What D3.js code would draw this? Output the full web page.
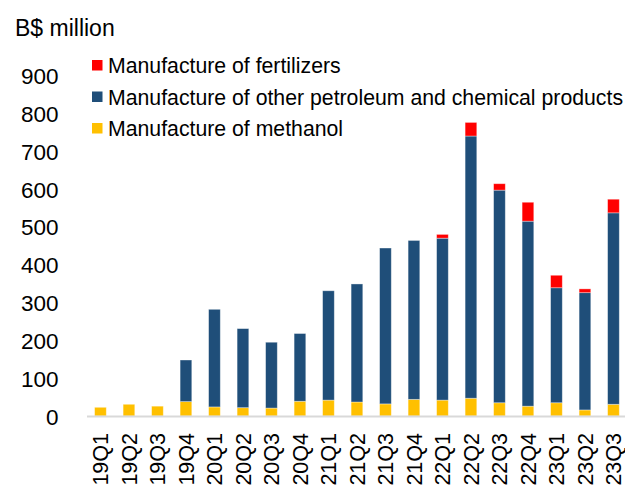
<!DOCTYPE html>
<html><head><meta charset="utf-8">
<script src="https://cdn.jsdelivr.net/npm/d3@7"></script>
<style>body{margin:0;background:#fff}svg{display:block;font-family:"Liberation Sans",Arial,sans-serif}</style>
</head><body><svg id="c" width="625" height="489"></svg>
<script>
const categories = ["19Q1","19Q2","19Q3","19Q4","20Q1","20Q2","20Q3","20Q4","21Q1","21Q2","21Q3","21Q4","22Q1","22Q2","22Q3","22Q4","23Q1","23Q2","23Q3"];
const methanol = [23,31,26,38,24,22,21,39,42,37,32,44,42,47,35,26,35,16,31];
const otherPetChem = [0,0,0,110,258,209,174,179,289,312,412,420,428,693,562,489,304,310,506];
const fertilizers = [0,0,0,0,0,0,0,0,0,0,0,0,10,36,17,50,33,10,36];
const yTicks = [0,100,200,300,400,500,600,700,800,900];
const seriesNames = ["Manufacture of fertilizers","Manufacture of other petroleum and chemical products","Manufacture of methanol"];
const colors = {methanol:"#FFC000", other:"#1F4E79", fert:"#FF0000"};

const svg = d3.select("#c");
const x = d3.scaleBand().domain(categories).range([86.2, 627.7]).paddingInner(0.59).paddingOuter(0.295);
const y = d3.scaleLinear().domain([0, 900]).range([416, 75.5]);

const rows = categories.map((c,i)=>({c, m:methanol[i], o:otherPetChem[i], f:fertilizers[i]}));
const stack = d3.stack().keys(["m","o","f"])(rows);
const fill = {m:colors.methanol, o:colors.other, f:colors.fert};

svg.append("g").selectAll("g").data(stack).join("g")
  .attr("fill", d=>fill[d.key])
  .selectAll("rect").data(d=>d.filter(p=>p[1]-p[0]>0)).join("rect")
  .attr("x", d=>x(d.data.c))
  .attr("width", x.bandwidth())
  .attr("y", d=>y(d[1]))
  .attr("height", d=>y(d[0])-y(d[1]))
  .attr("stroke","rgba(255,255,255,0.45)").attr("stroke-width",0.8);

// baseline
svg.append("line").attr("x1",87).attr("x2",625).attr("y1",y(0)+0.5).attr("y2",y(0)+0.5)
  .attr("stroke","#d9d9d9").attr("stroke-width",2);

// y axis labels
const yAxis = d3.axisLeft(y).tickValues(yTicks).tickSize(0).tickPadding(0);
const yg = svg.append("g").attr("transform","translate(58.5,0)").call(yAxis);
yg.select(".domain").remove();
yg.selectAll("text").attr("font-size",22.5).attr("fill","#000").attr("font-family","Liberation Sans, Arial, sans-serif").attr("dy","0.36em");

// x axis labels
const xAxis = d3.axisBottom(x).tickSize(0).tickPadding(0);
const xg = svg.append("g").attr("transform",`translate(0,${y(0)})`).call(xAxis);
xg.select(".domain").remove();
xg.selectAll("text").attr("font-size",21.5).attr("fill","#000").attr("font-family","Liberation Sans, Arial, sans-serif")
  .attr("text-anchor","end").attr("transform","rotate(-90)").attr("x",-17).attr("y",0).attr("dy","0.36em");

// title
svg.append("text").attr("x",15).attr("y",35.5).attr("font-size",23).attr("fill","#000").text("B$ million");

// legend
const legCols = [colors.fert, colors.other, colors.methanol];
const lg = svg.append("g");
seriesNames.forEach((n,i)=>{
  const by = 73 + i*31.5;
  lg.append("rect").attr("x",92).attr("y",by-13).attr("width",10.5).attr("height",10.5).attr("fill",legCols[i]);
  lg.append("text").attr("x",108).attr("y",by).attr("font-size",21.25).attr("fill","#000").text(n);
});
</script></body></html>
